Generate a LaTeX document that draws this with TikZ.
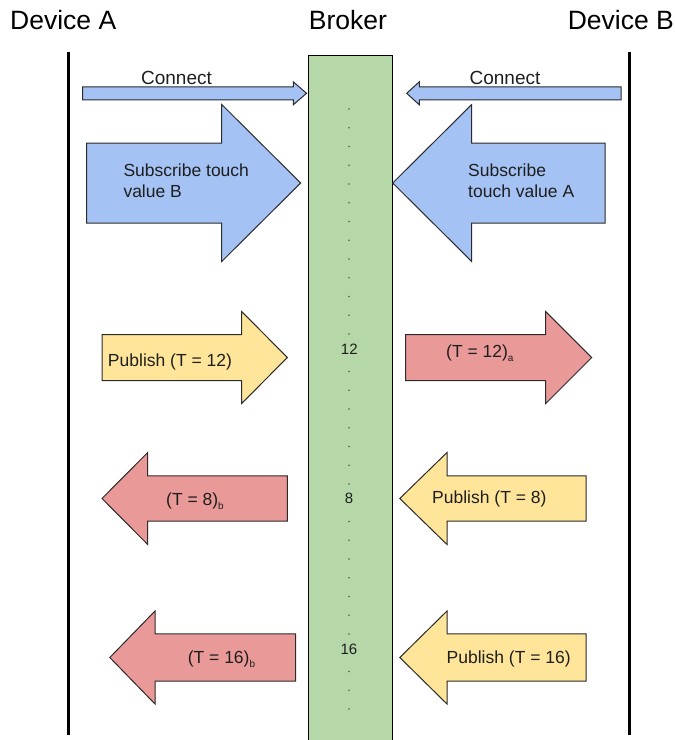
\documentclass[tikz,border=0pt]{standalone}
\usepackage{fontspec}
\setmainfont{Liberation Sans}
\definecolor{txt}{HTML}{1E1E1E}
\definecolor{blu}{HTML}{A4C2F4}
\definecolor{yel}{HTML}{FFE599}
\definecolor{redd}{HTML}{EA9999}
\definecolor{grn}{HTML}{B6D7A8}
\definecolor{edge}{HTML}{2B2B2B}
\newcommand{\fatarrow}[7]{%
  \draw[#1] (#2,#5-#6) -- (#3,#5-#6) -- (#3,#5-#7) -- (#4,#5) -- (#3,#5+#7) -- (#3,#5+#6) -- (#2,#5+#6) -- cycle;}
\newcommand{\sbx}[1]{\raisebox{-4pt}{\fontsize{10}{10}\selectfont #1}}
\tikzset{
  bluearrow/.style={fill=blu, draw=edge, line width=1pt, line join=miter},
  yelarrow/.style={fill=yel, draw=edge, line width=1pt, line join=miter},
  redarrow/.style={fill=redd, draw=edge, line width=1pt, line join=miter},
  lifeline/.style={draw=black, line width=3.3pt},
  broker/.style={fill=grn, draw=black, line width=1.4pt},
  title/.style={inner sep=0pt, text=black, font=\fontsize{26.5}{30}\selectfont},
  lbl/.style={inner sep=0pt, text=txt, font=\fontsize{17.5}{20.7}\selectfont},
  conn/.style={inner sep=0pt, text=txt, font=\fontsize{19}{22}\selectfont},
  num/.style={inner sep=0pt, text=txt, font=\fontsize{15}{18}\selectfont},
  tick/.style={fill=black!65, draw=none}
}
\begin{document}
\begin{tikzpicture}[x=1pt,y=-1pt]
\useasboundingbox (0,0) rectangle (675,740);
% titles
\node[title, anchor=base west] (devA) at (10,29.5) {Device A};
\node[title, anchor=base] (brk) at (348,29.5) {Broker};
\node[title, anchor=base east] (devB) at (674,29.5) {Device B};
% lifelines
\coordinate (la1) at (68.3,51.7); \coordinate (la2) at (68.3,735);
\coordinate (lb1) at (629.3,51.7); \coordinate (lb2) at (629.3,735);
\draw[lifeline] (la1) -- (la2);
\draw[lifeline] (lb1) -- (lb2);
% broker column
\draw[broker] (308.3,55.7) rectangle (392.5,745);
% ticks
\foreach \k in {0,...,32}{
  \ifnum\k=13\relax\else\ifnum\k=21\relax\else\ifnum\k=29\relax\else
    \fill[tick] (349,109+\k*18.75) circle (0.9);
  \fi\fi\fi
}
\node[num] (n12) at (349.3,349.5) {12};
\node[num] (n8) at (349,498.5) {8};
\node[num] (n16) at (349,649) {16};
% connect arrows
\fatarrow{bluearrow}{82.7}{293.3}{306.5}{93.3}{6.5}{11.5}
\fatarrow{bluearrow}{621}{419.3}{406.7}{93.3}{6.5}{11.5}
\node[conn, anchor=base] (cA) at (176.5,84.3) {Connect};
\node[conn, anchor=base] (cB) at (505,84.3) {Connect};
% subscribe arrows
\fatarrow{bluearrow}{86.7}{221.7}{300.7}{183}{40}{78.5}
\fatarrow{bluearrow}{605}{471.7}{392.7}{183}{40}{78.5}
\node[lbl, anchor=base west] (sA1) at (123.3,176.5) {Subscribe touch};
\node[lbl, anchor=base west] (sA2) at (123.3,197.5) {value B};
\node[lbl, anchor=base west] (sB1) at (468,176.5) {Subscribe};
\node[lbl, anchor=base west] (sB2) at (468,197.5) {touch value A};
% row T=12
\fatarrow{yelarrow}{102}{241.7}{287.3}{357.5}{23}{46}
\fatarrow{redarrow}{405.5}{545.7}{591.7}{357.5}{23}{46}
\node[lbl, anchor=base] (p12) at (170,366) {Publish (T = 12)};
\node[lbl, anchor=base west] (r12) at (446,357) {(T = 12)\sbx{a}};
% row T=8
\fatarrow{redarrow}{287.4}{147.7}{102}{498.5}{22.7}{46}
\fatarrow{yelarrow}{586}{447}{399.8}{498.5}{22.7}{46}
\node[lbl, anchor=base west] (r8) at (166,505) {(T = 8)\sbx{b}};
\node[lbl, anchor=base west] (p8) at (432,503.5) {Publish (T = 8)};
% row T=16
\fatarrow{redarrow}{295.6}{155}{109.8}{657.5}{23.7}{46.5}
\fatarrow{yelarrow}{586}{447}{399.8}{657.5}{23.7}{46.5}
\node[lbl, anchor=base west] (r16) at (187.6,663.5) {(T = 16)\sbx{b}};
\node[lbl, anchor=base west] (p16) at (446.5,663.5) {Publish (T = 16)};
\end{tikzpicture}
\end{document}
